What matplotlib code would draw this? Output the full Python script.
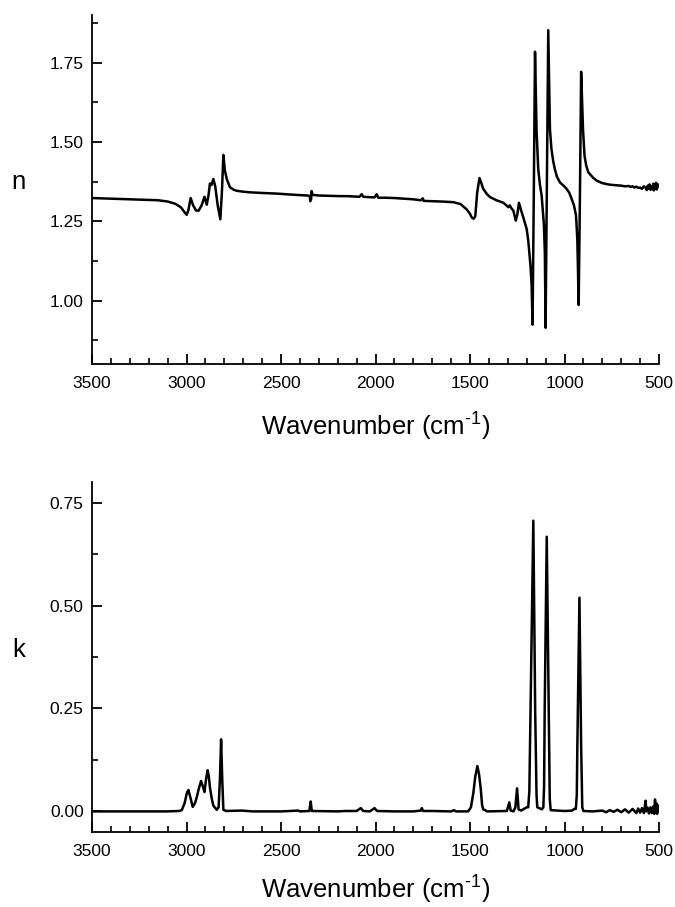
import matplotlib
matplotlib.use("Agg")
import matplotlib.pyplot as plt
from matplotlib.ticker import MultipleLocator

plt.rcParams["font.family"] = ["Liberation Sans", "DejaVu Sans"]
plt.rcParams["mathtext.fontset"] = "custom"
plt.rcParams["mathtext.rm"] = "Liberation Sans"
plt.rcParams["mathtext.it"] = "Liberation Sans"

# Refractive index n
n_wn = [3500, 3400, 3300, 3200, 3150, 3100, 3060, 3030, 3010, 2999, 2990, 2978,
        2965, 2950, 2936, 2920, 2905, 2893, 2884, 2876, 2868, 2858, 2848, 2835,
        2821, 2812, 2805, 2797, 2787, 2770, 2750, 2735, 2700, 2664, 2600, 2523,
        2450, 2364, 2348, 2345, 2341, 2338, 2333, 2300, 2250, 2188, 2152, 2120,
        2085, 2073, 2065, 2040, 2005, 1994, 1985, 1950, 1900, 1850, 1800, 1760,
        1750, 1745, 1700, 1650, 1588, 1550, 1535, 1517, 1500, 1490, 1480, 1472,
        1462, 1450, 1440, 1430, 1410, 1394, 1360, 1323, 1297, 1290, 1280, 1271,
        1258, 1250, 1241, 1230, 1218, 1200, 1192, 1180, 1174, 1169, 1163, 1156,
        1148, 1139, 1130, 1121, 1109, 1104, 1100, 1093, 1086, 1077, 1069, 1060,
        1051, 1040, 1024, 1005, 989, 975, 962, 950, 939, 932, 925, 918, 912, 902,
        894, 885, 874, 850, 830, 800, 760, 720, 700, 680, 660, 650, 640, 630, 620,
        610, 600, 590, 580, 570, 565, 560, 555, 550, 545, 540, 535, 530, 527, 523,
        520, 516, 512, 508, 504, 500]
n_val = [1.323, 1.321, 1.319, 1.317, 1.316, 1.312, 1.305, 1.294, 1.278, 1.270, 1.285, 1.323,
         1.300, 1.284, 1.283, 1.300, 1.327, 1.302, 1.330, 1.369, 1.364, 1.383, 1.360, 1.300,
         1.256, 1.350, 1.459, 1.410, 1.383, 1.357, 1.349, 1.346, 1.343, 1.341, 1.339, 1.337,
         1.334, 1.331, 1.330, 1.313, 1.318, 1.345, 1.333, 1.331, 1.330, 1.329, 1.329, 1.328,
         1.327, 1.335, 1.327, 1.326, 1.325, 1.335, 1.324, 1.324, 1.323, 1.321, 1.319, 1.316,
         1.322, 1.314, 1.313, 1.312, 1.310, 1.304, 1.296, 1.287, 1.273, 1.261, 1.258, 1.266,
         1.340, 1.386, 1.370, 1.352, 1.335, 1.326, 1.316, 1.308, 1.294, 1.300, 1.290, 1.284,
         1.252, 1.270, 1.308, 1.285, 1.262, 1.225, 1.190, 1.110, 1.049, 0.924, 1.300, 1.784,
         1.539, 1.414, 1.365, 1.331, 1.240, 1.150, 0.914, 1.400, 1.852, 1.539, 1.477, 1.440,
         1.414, 1.390, 1.372, 1.362, 1.352, 1.340, 1.320, 1.300, 1.268, 1.190, 0.986, 1.350, 1.721, 1.539,
         1.456, 1.425, 1.404, 1.388, 1.378, 1.370, 1.365, 1.363, 1.362, 1.360, 1.361, 1.358, 1.360, 1.356, 1.359,
         1.355, 1.356, 1.352, 1.360, 1.355, 1.348, 1.362, 1.352, 1.366, 1.349, 1.360, 1.351, 1.368, 1.347, 1.363,
         1.357, 1.371, 1.350, 1.367, 1.358, 1.362]

# Extinction coefficient k
k_wn = [3500, 3100, 3040, 3025, 3010, 2998, 2990, 2980, 2967, 2955, 2946, 2935,
        2923, 2913, 2905, 2896, 2888, 2882, 2876, 2866, 2858, 2840, 2830, 2823,
        2817, 2811, 2805, 2790, 2708, 2650, 2500, 2408, 2400, 2350, 2343, 2337,
        2200, 2160, 2100, 2078, 2065, 2030, 2005, 1992, 1900, 1800, 1760, 1755,
        1748, 1700, 1600, 1585, 1575, 1510, 1495, 1482, 1472, 1461, 1452, 1443,
        1436, 1430, 1420, 1410, 1305, 1292, 1285, 1270, 1260, 1251, 1243, 1230,
        1200, 1192, 1186, 1180, 1165, 1155, 1148, 1144, 1120, 1112, 1108, 1105,
        1094, 1083, 1078, 1073, 1000, 960, 948, 940, 935, 932, 921, 912, 906, 900,
        850, 800, 780, 760, 740, 720, 700, 680, 660, 640, 620, 610, 600, 590, 580,
        571, 567, 560, 553, 545, 538, 530, 525, 521, 518, 514, 510, 506, 502, 500]
k_val = [0.000, 0.000, 0.001, 0.003, 0.020, 0.045, 0.052, 0.035, 0.011, 0.020, 0.034, 0.055,
         0.074, 0.060, 0.047, 0.080, 0.100, 0.085, 0.058, 0.030, 0.014, 0.004, 0.010, 0.080,
         0.175, 0.080, 0.004, 0.001, 0.002, 0.000, 0.000, 0.002, 0.000, 0.001, 0.024, 0.001,
         0.000, 0.001, 0.001, 0.008, 0.001, 0.000, 0.008, 0.001, 0.000, 0.000, 0.002, 0.008,
         0.001, 0.001, 0.000, 0.003, 0.000, 0.000, 0.010, 0.046, 0.085, 0.110, 0.090, 0.054,
         0.015, 0.005, 0.003, 0.000, 0.001, 0.022, 0.002, 0.000, 0.010, 0.056, 0.005, 0.002,
         0.010, 0.010, 0.050, 0.240, 0.706, 0.240, 0.040, 0.010, 0.005, 0.010, 0.060, 0.240,
         0.667, 0.240, 0.030, 0.003, 0.001, 0.002, 0.006, 0.006, 0.040, 0.159, 0.519, 0.159, 0.010, 0.001,
         0.000, 0.002, -0.002, 0.003, -0.001, 0.004, -0.002, 0.005, -0.003, 0.006, -0.004, 0.007, -0.003, 0.008, -0.004,
         0.026, 0.000, 0.009, -0.005, 0.010, -0.004, 0.012, -0.006, 0.029, -0.002, 0.020, -0.006, 0.015, 0.000, 0.008]


def style_axis(ax, ylabel, ylim, major, minor, xpad):
    ax.set_xlim(3500, 500)
    ax.set_ylim(*ylim)
    ax.spines["top"].set_visible(False)
    ax.spines["right"].set_visible(False)
    for s in ("left", "bottom"):
        ax.spines[s].set_linewidth(1.3)
    ax.xaxis.set_major_locator(MultipleLocator(500))
    ax.xaxis.set_minor_locator(MultipleLocator(100))
    ax.yaxis.set_major_locator(MultipleLocator(major))
    ax.yaxis.set_minor_locator(MultipleLocator(minor))
    ax.yaxis.set_major_formatter(plt.FormatStrFormatter("%.2f"))
    ax.tick_params(which="major", direction="in", length=7, width=1.3, labelsize=12.5)
    ax.tick_params(which="minor", direction="in", length=4.3, width=1.2)
    ax.tick_params(axis="x", which="major", pad=9)
    ax.tick_params(axis="y", which="major", pad=6)
    ax.set_xlabel("Wavenumber (cm$^{\\mathregular{\u2010}1}$)", fontsize=18.5, labelpad=xpad)
    ax.set_ylabel(ylabel, rotation=0, fontsize=18.5, va="center", ha="center")
    ax.yaxis.set_label_coords(-0.13, 0.52)


fig = plt.figure(figsize=(6.75, 9.07), dpi=100)
ax1 = fig.add_axes([0.1363, 0.5987, 0.8400, 0.3848])
ax2 = fig.add_axes([0.1363, 0.0827, 0.8400, 0.3859])

ax1.plot(n_wn, n_val, color="black", linewidth=1.8)
style_axis(ax1, "n", (0.80, 1.90), 0.25, 0.125, 14)

ax2.plot(k_wn, k_val, color="black", linewidth=1.8)
style_axis(ax2, "k", (-0.05, 0.80), 0.25, 0.125, 10)

fig.savefig("out.png", dpi=100)
